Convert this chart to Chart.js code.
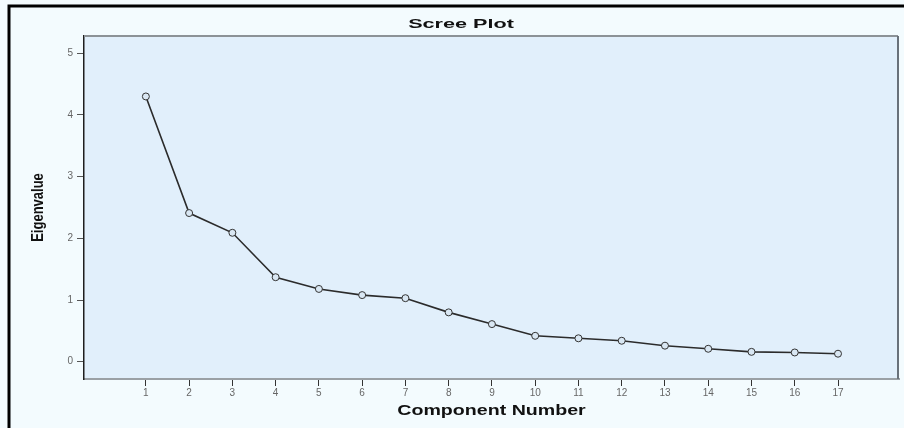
<!DOCTYPE html>
<html>
<head>
<meta charset="utf-8">
<script src="https://cdn.jsdelivr.net/npm/chart.js@4.4.1/dist/chart.umd.min.js"></script>
<style>
  html, body { margin: 0; padding: 0; background: #f3fbfe; }
  #caja { width: 904px; height: 428px; }
</style>
</head>
<body>
<div id="caja"><canvas id="scree" width="904" height="428"></canvas></div>
<script>
const components = [1, 2, 3, 4, 5, 6, 7, 8, 9, 10, 11, 12, 13, 14, 15, 16, 17];
const eigenvalues = [4.30, 2.41, 2.09, 1.37, 1.18, 1.08, 1.03, 0.80, 0.61, 0.42, 0.38, 0.34, 0.26, 0.21, 0.16, 0.15, 0.13];
const yTicks = [0, 1, 2, 3, 4, 5];
const chartTitle = 'Scree Plot';
const xTitle = 'Component Number';
const yTitle = 'Eigenvalue';

window.onload = inicio;

function inicio() {
  graficoScree();
}

// texto ensanchado en horizontal, como en la imagen original
function textoAncho(ctx, texto, x, y, fuente, escalaX, rotar) {
  ctx.save();
  ctx.font = fuente;
  ctx.fillStyle = '#111';
  ctx.textAlign = 'center';
  ctx.textBaseline = 'middle';
  ctx.translate(x, y);
  ctx.scale(escalaX, 1);
  if (rotar) ctx.rotate(-Math.PI / 2);
  ctx.fillText(texto, 0, 0);
  ctx.restore();
}

const fondo = {
  id: 'fondo',
  beforeDraw(chart) {
    const { ctx, chartArea: a } = chart;
    ctx.save();
    ctx.fillStyle = '#f3fbfe';
    ctx.fillRect(0, 0, chart.width, chart.height);
    ctx.fillStyle = '#e1effb';
    ctx.fillRect(a.left, a.top, a.right - a.left, a.bottom - a.top);
    ctx.restore();
  },
  afterDraw(chart) {
    const { ctx, chartArea: a } = chart;
    ctx.save();
    // borde superior y derecho del area
    ctx.strokeStyle = '#8c9297';
    ctx.lineWidth = 2;
    ctx.beginPath();
    ctx.moveTo(a.left, a.top);
    ctx.lineTo(a.right - 1, a.top);
    ctx.stroke();
    ctx.strokeStyle = '#69717a';
    ctx.beginPath();
    ctx.moveTo(a.right - 1, a.top);
    ctx.lineTo(a.right - 1, a.bottom);
    ctx.stroke();
    // marco negro exterior
    ctx.strokeStyle = '#000';
    ctx.lineWidth = 3;
    ctx.beginPath();
    ctx.moveTo(9, chart.height);
    ctx.lineTo(9, 6);
    ctx.lineTo(chart.width, 6);
    ctx.stroke();
    ctx.restore();

    textoAncho(ctx, chartTitle, 461, 25, 'bold 12px "Liberation Sans", Arial', 1.8, false);
    textoAncho(ctx, xTitle, (a.left + a.right) / 2, 411, 'bold 14px "Liberation Sans", Arial', 1.4, false);
    textoAncho(ctx, yTitle, 39, (a.top + a.bottom) / 2, 'bold 13px "Liberation Sans", Arial', 1.2, true);
  }
};

function graficoScree() {
  const ctx = document.getElementById('scree');

  new Chart(ctx, {
    type: 'line',
    data: {
      datasets: [{
        label: yTitle,
        data: components.map((c, i) => ({ x: c, y: eigenvalues[i] })),
        borderWidth: 1.6,
        borderColor: '#2b2b2b',
        backgroundColor: '#d9e7f3',
        pointRadius: 3.5,
        pointBorderWidth: 1,
        pointBorderColor: '#333',
        pointBackgroundColor: '#d9e7f3',
        tension: 0
      }]
    },
    options: {
      responsive: false,
      animation: false,
      layout: {
        padding: { left: 0, top: 36, right: 4, bottom: 0 }
      },
      plugins: {
        legend: { display: false },
        tooltip: { enabled: false },
        title: { display: false }
      },
      scales: {
        x: {
          type: 'linear',
          min: -0.43,
          max: 18.41,
          afterBuildTicks: (s) => { s.ticks = components.map(v => ({ value: v })); },
          afterFit: (s) => { s.height = 49; },
          grid: { drawOnChartArea: false, drawTicks: true, tickLength: 7, color: '#333' },
          border: { display: true, color: '#9aa0a5', width: 2 },
          ticks: {
            autoSkip: false,
            maxRotation: 0,
            padding: 1,
            color: '#666',
            font: { family: '"Liberation Sans", Arial', size: 10 }
          }
        },
        y: {
          min: -0.28,
          max: 5.28,
          afterBuildTicks: (s) => { s.ticks = yTicks.map(v => ({ value: v })); },
          afterFit: (s) => { s.width = 84; },
          grid: { drawOnChartArea: false, drawTicks: true, tickLength: 7, color: '#555' },
          border: { display: true, color: '#1e1e1e', width: 1.5 },
          ticks: {
            padding: 4,
            color: '#666',
            font: { family: '"Liberation Sans", Arial', size: 10 }
          }
        }
      }
    },
    plugins: [fondo]
  });
}
</script>
</body>
</html>
